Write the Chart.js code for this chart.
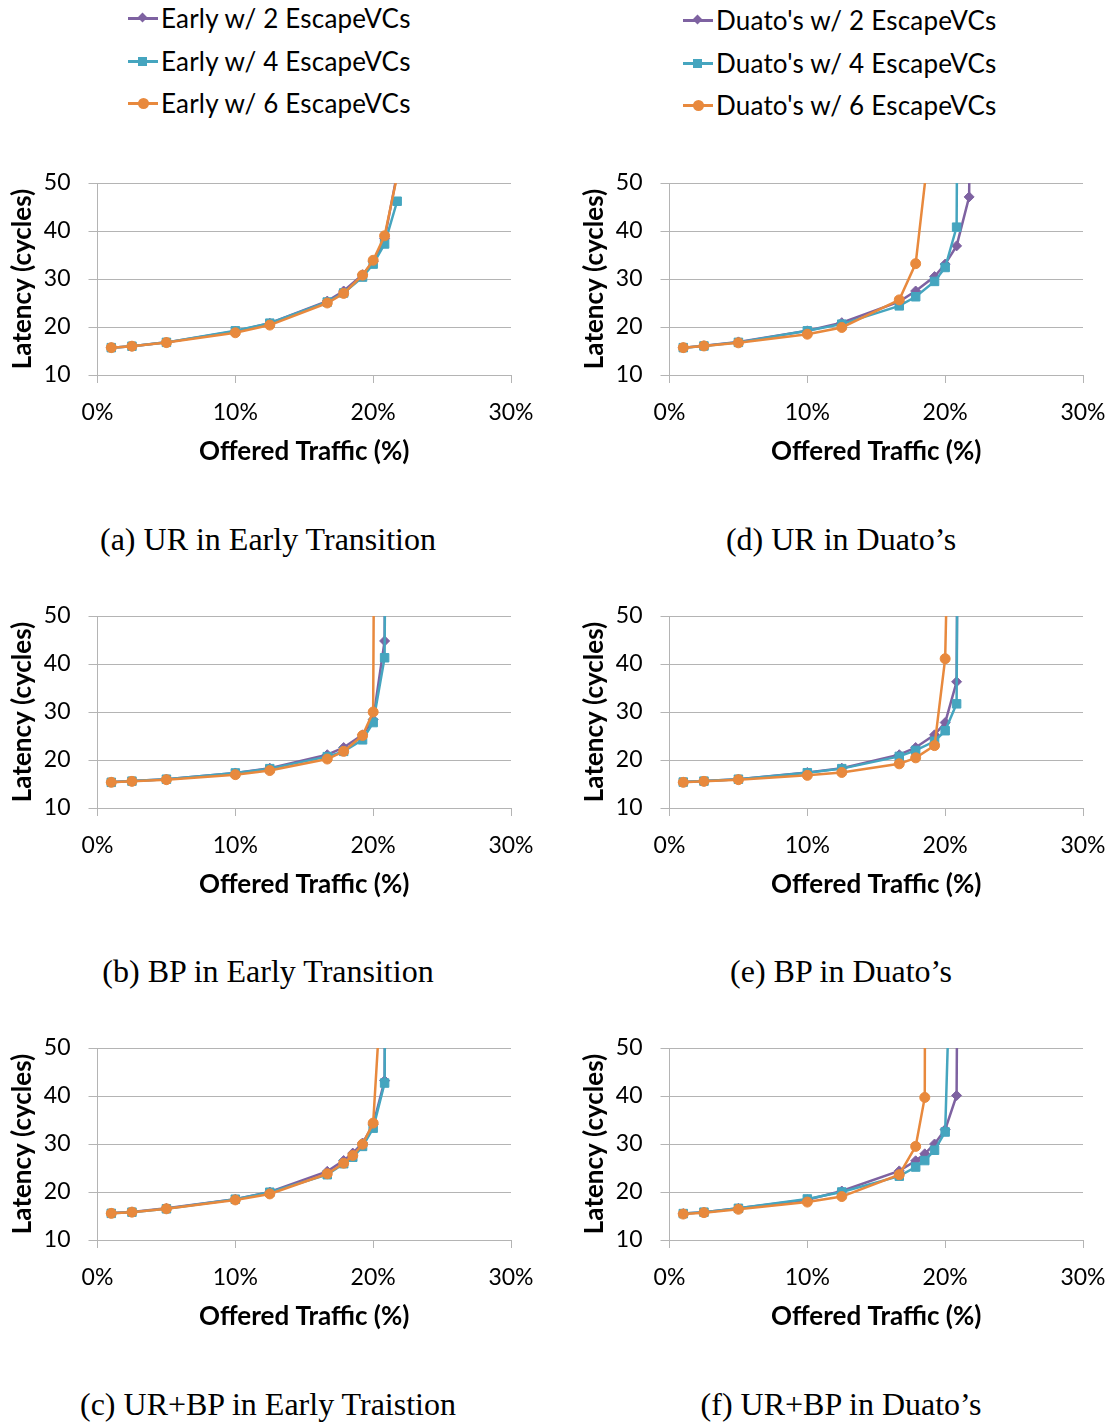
<!DOCTYPE html>
<html>
<head>
<meta charset="utf-8">
<script src="https://cdn.jsdelivr.net/npm/chart.js@4.4.1/dist/chart.umd.min.js"></script>
<style>
body { margin: 0; background: #fff; }
#page { position: relative; width: 1115px; height: 1424px; overflow: hidden; background: #fff; }
.box { position: absolute; }
.cap { position: absolute; width: 500px; text-align: center; font-family: "Liberation Serif", serif; font-size: 32px; line-height: 36px; color: #000; white-space: nowrap; }
.leg { position: absolute; font-family: Lato, sans-serif; font-size: 26px; letter-spacing: 0.2px; line-height: 30px; color: #000; white-space: nowrap; }
.leg .ln { position: absolute; left: 0; top: 14px; width: 30px; height: 3px; }
.leg .mk { position: absolute; }
.leg .tx { position: absolute; left: 33px; top: 0; }
</style>
</head>
<body>
<div id="page">
  <div id="legLeft"></div>
  <div id="legRight"></div>

  <div class="box" style="left:0px; top:150px;"><canvas id="chartA" width="540" height="330"></canvas></div>
  <div class="box" style="left:572px; top:150px;"><canvas id="chartD" width="540" height="330"></canvas></div>
  <div class="box" style="left:0px; top:583px;"><canvas id="chartB" width="540" height="330"></canvas></div>
  <div class="box" style="left:572px; top:583px;"><canvas id="chartE" width="540" height="330"></canvas></div>
  <div class="box" style="left:0px; top:1015px;"><canvas id="chartC" width="540" height="330"></canvas></div>
  <div class="box" style="left:572px; top:1015px;"><canvas id="chartF" width="540" height="330"></canvas></div>

  <div class="cap" style="left:18px; top:521px;">(a) UR in Early Transition</div>
  <div class="cap" style="left:591px; top:521px;">(d) UR in Duato’s</div>
  <div class="cap" style="left:18px; top:953px;">(b) BP in Early Transition</div>
  <div class="cap" style="left:591px; top:953px;">(e) BP in Duato’s</div>
  <div class="cap" style="left:18px; top:1386px;">(c) UR+BP in Early Traistion</div>
  <div class="cap" style="left:591px; top:1386px;">(f) UR+BP in Duato’s</div>
</div>

<script>
// offered traffic (%) - shared x positions, null = no sample for that series
const load = [1, 2.5, 5, 10, 12.5, 16.67, 17.86, 18.52, 19.23, 20, 20.83, 21.74, 22.73];

// (a) UR, early transition
const early2UR = [15.7, 16.0, 16.8, 19.1, 20.8, 25.4, 27.5, null, 30.9, 33.6, 38.4, 52, null];
const early4UR = [15.7, 16.0, 16.8, 19.2, 20.8, 25.2, 27.1, null, 30.4, 33.1, 37.3, 46.2, null];
const early6UR = [15.7, 16.0, 16.75, 18.8, 20.4, 25.0, 27.0, null, 30.8, 33.9, 39.0, 51.5, null];

// (d) UR, duato
const duato2UR = [15.7, 16.1, 16.9, 19.2, 20.9, 25.3, 27.5, null, 30.5, 33.1, 36.9, 47.1, 500];
const duato4UR = [15.7, 16.05, 16.8, 19.2, 20.6, 24.4, 26.3, null, 29.5, 32.4, 40.8, 500, null];
const duato6UR = [15.7, 16.05, 16.7, 18.5, 19.9, 25.65, 33.2, null, 67.5, null, null, null, null];

// (b) BP, early transition
const early2BP = [15.4, 15.6, 16.0, 17.3, 18.3, 21.1, 22.6, null, 25.25, 28.4, 44.8, 500, null];
const early4BP = [15.35, 15.6, 16.0, 17.3, 18.2, 20.7, 21.8, null, 24.2, 27.8, 41.3, 500, null];
const early6BP = [15.35, 15.55, 15.9, 16.95, 17.8, 20.2, 21.8, null, 25.1, 30.0, 500, null, null];

// (e) BP, duato
const duato2BP = [15.4, 15.6, 16.0, 17.4, 18.3, 21.1, 22.6, null, 25.25, 27.8, 36.3, 500, null];
const duato4BP = [15.4, 15.6, 16.0, 17.35, 18.2, 20.75, 22.0, null, 23.9, 26.1, 31.7, 500, null];
const duato6BP = [15.35, 15.55, 15.9, 16.8, 17.4, 19.2, 20.45, null, 23.0, 41.1, 150, null, null];

// (c) UR+BP, early transition
const early2Mix = [15.6, 15.85, 16.6, 18.5, 20.0, 24.3, 26.55, 28.1, 30.2, 34.0, 43.2, 500, null];
const early4Mix = [15.55, 15.8, 16.5, 18.5, 19.95, 23.6, 25.9, 27.25, 29.5, 33.3, 42.7, 500, null];
const early6Mix = [15.55, 15.8, 16.5, 18.35, 19.6, 23.8, 26.0, 27.6, 29.95, 34.35, 73.7, null, null];

// (f) UR+BP, duato
const duato2Mix = [15.5, 15.8, 16.6, 18.4, 20.2, 24.4, 26.5, 27.95, 30.0, 33.0, 40.1, 500, null];
const duato4Mix = [15.5, 15.8, 16.6, 18.55, 20.0, 23.3, 25.2, 26.55, 28.7, 32.5, 113, null, null];
const duato6Mix = [15.4, 15.7, 16.4, 17.9, 19.05, 23.6, 29.5, 39.7, 1000, null, null, null, null];

const earlyNames = ['Early w/ 2 EscapeVCs', 'Early w/ 4 EscapeVCs', 'Early w/ 6 EscapeVCs'];
const duatoNames = ["Duato's w/ 2 EscapeVCs", "Duato's w/ 4 EscapeVCs", "Duato's w/ 6 EscapeVCs"];
const yTicks = [10, 20, 30, 40, 50];
const xTicks = [0, 10, 20, 30];

const colors = ['#7e62a1', '#45a5bf', '#e8893d'];
const shapes = ['rectRot', 'rect', 'circle'];
const radii = [5, 6, 5];
const gridGray = '#b4b4b4';

function pts(vals) {
  return load.map((x, i) => ({ x: x, y: vals[i] })).filter(p => p.y !== null);
}

function makeChart(id, names, s2, s4, s6) {
  const sets = [s2, s4, s6].map((vals, i) => ({
    label: names[i],
    data: pts(vals),
    borderColor: colors[i],
    backgroundColor: colors[i],
    borderWidth: 2.5,
    pointStyle: shapes[i],
    pointRadius: radii[i],
    pointBorderWidth: 1,
    tension: 0,
    order: 2 - i
  }));
  new Chart(document.getElementById(id).getContext('2d'), {
    type: 'line',
    data: { datasets: sets },
    options: {
      responsive: false,
      animation: false,
      layout: { padding: { top: 33, right: 29, left: 0, bottom: 0 } },
      plugins: { legend: { display: false }, tooltip: { enabled: false } },
      scales: {
        x: {
          type: 'linear', min: 0, max: 30,
          afterBuildTicks: s => { s.ticks = xTicks.map(v => ({ value: v })); },
          afterFit: s => { s.height = 105; s.paddingLeft = 0; s.paddingRight = 0; },
          ticks: { color: '#000', padding: 16, maxRotation: 0, font: { family: 'Lato', size: 23 }, callback: v => v + '%' },
          grid: { drawOnChartArea: false, tickLength: 8, color: gridGray },
          border: { color: gridGray },
          title: { display: true, text: 'Offered Traffic (%)', color: '#000', font: { family: 'Lato', size: 26, weight: 'bold' }, padding: { top: 0, bottom: 13 } }
        },
        y: {
          min: 10, max: 50,
          afterBuildTicks: s => { s.ticks = yTicks.map(v => ({ value: v })); },
          afterFit: s => { s.width = 97.5; },
          ticks: { color: '#000', padding: 18, font: { family: 'Lato', size: 23 } },
          grid: { color: gridGray, tickLength: 9 },
          border: { color: gridGray },
          title: { display: true, text: 'Latency (cycles)', color: '#000', font: { family: 'Lato', size: 26, weight: 'bold' }, padding: { top: 7, bottom: 0 } }
        }
      }
    }
  });
}

makeChart('chartA', earlyNames, early2UR, early4UR, early6UR);
makeChart('chartD', duatoNames, duato2UR, duato4UR, duato6UR);
makeChart('chartB', earlyNames, early2BP, early4BP, early6BP);
makeChart('chartE', duatoNames, duato2BP, duato4BP, duato6BP);
makeChart('chartC', earlyNames, early2Mix, early4Mix, early6Mix);
makeChart('chartF', duatoNames, duato2Mix, duato4Mix, duato6Mix);

// legends above the two columns
function legend(holderId, names, left, tops) {
  const holder = document.getElementById(holderId);
  names.forEach((name, i) => {
    const item = document.createElement('div');
    item.className = 'leg';
    item.style.left = left + 'px';
    item.style.top = tops[i] + 'px';
    const ln = document.createElement('div');
    ln.className = 'ln';
    ln.style.background = colors[i];
    const mk = document.createElement('div');
    mk.className = 'mk';
    mk.style.background = colors[i];
    if (i === 0) {
      mk.style.cssText += 'left:11px;top:11px;width:7px;height:7px;transform:rotate(45deg);';
    } else if (i === 1) {
      mk.style.cssText += 'left:10px;top:11px;width:9px;height:9px;';
    } else {
      mk.style.cssText += 'left:10px;top:10px;width:11px;height:11px;border-radius:50%;';
    }
    const tx = document.createElement('div');
    tx.className = 'tx';
    tx.textContent = name;
    item.appendChild(ln);
    item.appendChild(mk);
    item.appendChild(tx);
    holder.appendChild(item);
  });
}
legend('legLeft', earlyNames, 128, [3, 46, 88]);
legend('legRight', duatoNames, 683, [5, 48, 90]);
</script>
</body>
</html>
